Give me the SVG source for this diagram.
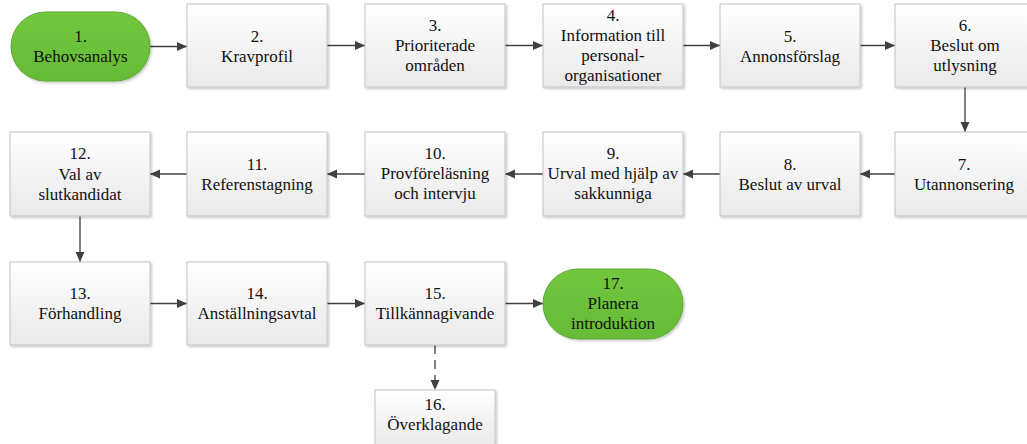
<svg xmlns="http://www.w3.org/2000/svg" width="1027" height="444" viewBox="0 0 1027 444" font-family="'Liberation Serif', 'Times New Roman', 'DejaVu Serif', serif">
<style>
.box{fill:url(#gb);stroke:#c4c4c4;stroke-width:1;filter:url(#sh)}
.pill{fill:url(#gg);stroke:#5da735;stroke-width:1;filter:url(#sh)}
text{font-size:17px;fill:#111;text-anchor:middle}
.c{fill:none;stroke:#404040;stroke-width:1.3;marker-end:url(#ah)}
.d{stroke-dasharray:9 6}
</style>
<defs>
<linearGradient id="gb" x1="0" y1="0" x2="0" y2="1"><stop offset="0" stop-color="#ffffff"/><stop offset="1" stop-color="#e9e9e9"/></linearGradient>
<linearGradient id="gg" x1="0" y1="0" x2="0" y2="1"><stop offset="0" stop-color="#72c73f"/><stop offset="1" stop-color="#66bb36"/></linearGradient>
<filter id="sh" x="-10%" y="-10%" width="130%" height="130%"><feDropShadow dx="1.5" dy="1.5" stdDeviation="1" flood-color="#000" flood-opacity="0.22"/></filter>
<marker id="ah" viewBox="0 0 10 10" refX="10" refY="5" markerWidth="10" markerHeight="10" markerUnits="userSpaceOnUse" orient="auto"><path d="M0,0.5 L10,5 L0,9.5 Z" fill="#404040"/></marker>
</defs>
<g id="connectors">
<path class="c" d="M150,46.5 H187"/>
<path class="c" d="M327,45.5 H365"/>
<path class="c" d="M505,45.5 H543"/>
<path class="c" d="M683,45.5 H720"/>
<path class="c" d="M860,45.5 H895"/>
<path class="c" d="M965,87 V132"/>
<path class="c" d="M895,174 H860"/>
<path class="c" d="M720,174 H683"/>
<path class="c" d="M543,174 H505"/>
<path class="c" d="M365,174 H327"/>
<path class="c" d="M187,174 H150"/>
<path class="c" d="M80,216 V262"/>
<path class="c" d="M150,303.5 H187"/>
<path class="c" d="M327,303.5 H365"/>
<path class="c" d="M505,303.5 H543"/>
<path class="c d" d="M435,345 V390"/>
</g>
<g id="n1"><rect class="pill" x="11" y="12" width="139" height="69" rx="34.5"/><text x="80.5" y="41.5">1.</text><text x="80.5" y="61.5">Behovsanalys</text></g>
<g id="n2"><rect class="box" x="187" y="4" width="140" height="83"/><text x="257" y="41.5">2.</text><text x="257" y="61.5">Kravprofil</text></g>
<g id="n3"><rect class="box" x="365" y="4" width="140" height="83"/><text x="435" y="30.5">3.</text><text x="435" y="50.5">Prioriterade</text><text x="435" y="70.5">områden</text></g>
<g id="n4"><rect class="box" x="543" y="4" width="140" height="83"/><text x="613" y="20.5">4.</text><text x="613" y="40.5">Information till</text><text x="613" y="60.5">personal-</text><text x="613" y="80.5">organisationer</text></g>
<g id="n5"><rect class="box" x="720" y="4" width="140" height="83"/><text x="790" y="41.5">5.</text><text x="790" y="61.5">Annonsförslag</text></g>
<g id="n6"><rect class="box" x="895" y="4" width="140" height="83"/><text x="965" y="30.5">6.</text><text x="965" y="50.5">Beslut om</text><text x="965" y="70.5">utlysning</text></g>
<g id="n7"><rect class="box" x="895" y="132" width="140" height="84"/><text x="964" y="169.5">7.</text><text x="964" y="189.5">Utannonsering</text></g>
<g id="n8"><rect class="box" x="720" y="132" width="140" height="84"/><text x="790" y="169.5">8.</text><text x="790" y="189.5">Beslut av urval</text></g>
<g id="n9"><rect class="box" x="543" y="132" width="140" height="84"/><text x="613" y="159">9.</text><text x="613" y="179">Urval med hjälp av</text><text x="613" y="199">sakkunniga</text></g>
<g id="n10"><rect class="box" x="365" y="132" width="140" height="84"/><text x="435" y="159">10.</text><text x="435" y="179">Provföreläsning</text><text x="435" y="199">och intervju</text></g>
<g id="n11"><rect class="box" x="187" y="132" width="140" height="84"/><text x="257" y="169.5">11.</text><text x="257" y="189.5">Referenstagning</text></g>
<g id="n12"><rect class="box" x="10" y="132" width="140" height="84"/><text x="80" y="159">12.</text><text x="80" y="180">Val av</text><text x="80" y="200">slutkandidat</text></g>
<g id="n13"><rect class="box" x="10" y="262" width="140" height="83"/><text x="80" y="299">13.</text><text x="80" y="319">Förhandling</text></g>
<g id="n14"><rect class="box" x="187" y="262" width="140" height="83"/><text x="257" y="299">14.</text><text x="257" y="319">Anställningsavtal</text></g>
<g id="n15"><rect class="box" x="365" y="262" width="140" height="83"/><text x="435" y="299">15.</text><text x="435" y="319">Tillkännagivande</text></g>
<g id="n17"><rect class="pill" x="543" y="269" width="140" height="70" rx="35"/><text x="613" y="288.5">17.</text><text x="613" y="308.5">Planera</text><text x="613" y="328.5">introduktion</text></g>
<g id="n16"><rect class="box" x="375" y="390" width="120" height="60"/><text x="435" y="409.5">16.</text><text x="435" y="430">Överklagande</text></g>
</svg>
